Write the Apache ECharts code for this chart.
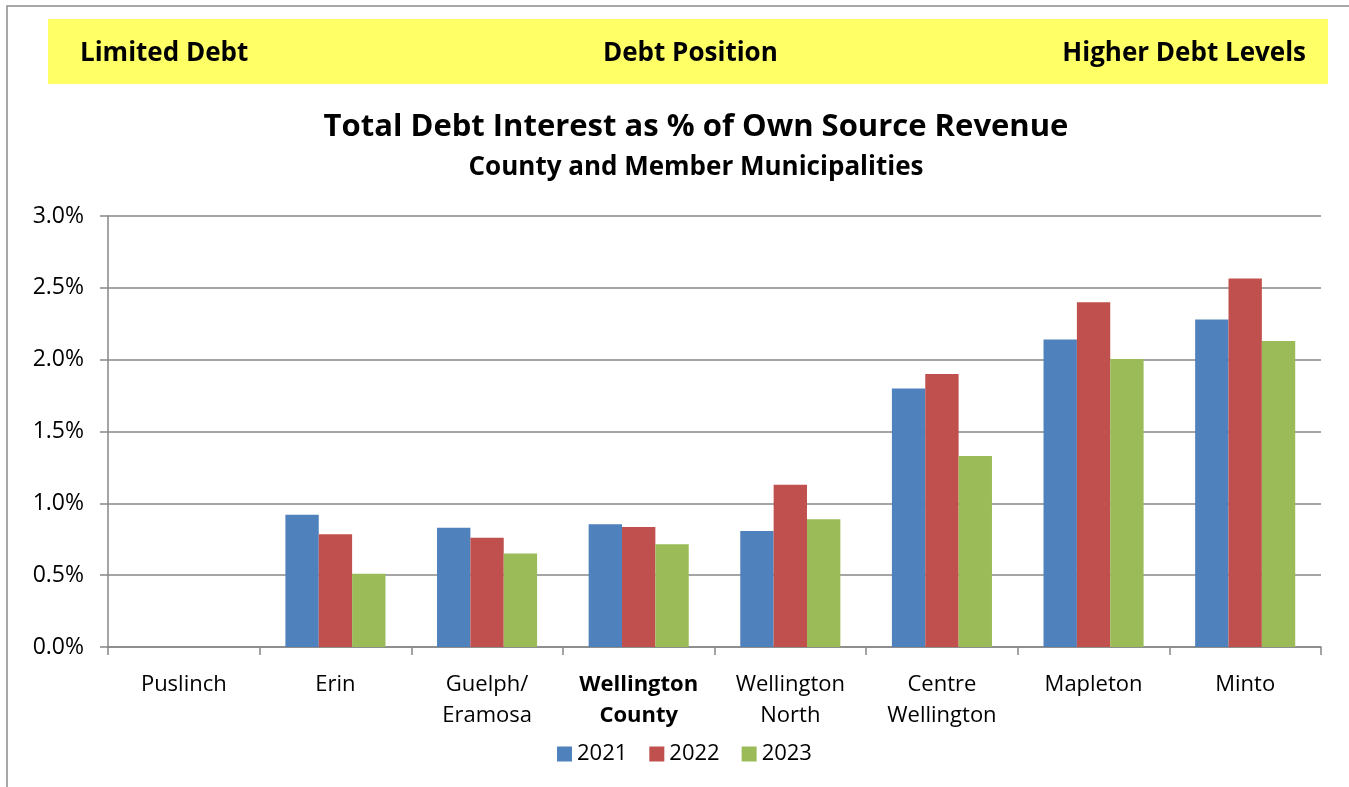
<!DOCTYPE html>
<html>
<head>
<meta charset="utf-8">
<script src="https://cdn.jsdelivr.net/npm/echarts@6/dist/echarts.min.js"></script>
<style>
html, body { margin: 0; padding: 0; background: #fff; }
#chart { width: 1349px; height: 787px; }
</style>
</head>
<body>
<div id="chart"></div>
<script>
const categories = ['Puslinch', 'Erin', 'Guelph/\nEramosa', 'Wellington\nCounty', 'Wellington\nNorth', 'Centre\nWellington', 'Mapleton', 'Minto']
const years = ['2021', '2022', '2023']
const values2021 = [0, 0.92, 0.83, 0.855, 0.807, 1.80, 2.14, 2.28]
const values2022 = [0, 0.785, 0.76, 0.835, 1.13, 1.90, 2.40, 2.565]
const values2023 = [0, 0.51, 0.65, 0.715, 0.89, 1.33, 2.005, 2.13]
const yTicks = [0, 0.5, 1.0, 1.5, 2.0, 2.5, 3.0]
const colors = ['#4F81BD', '#C0504D', '#9BBB59']
const font = '"Open Sans", Lato, sans-serif'

const chart = echarts.init(document.getElementById('chart'))
const gray = '#878787'

chart.setOption({
  animation: false,
  color: colors,
  textStyle: { fontFamily: font },
  graphic: [
    {
      type: 'rect',
      shape: { x: 7, y: 6, width: 1400, height: 900 },
      style: { fill: 'none', stroke: '#8c8c8c', lineWidth: 1.5 }
    },
    {
      type: 'rect',
      shape: { x: 48, y: 19, width: 1280, height: 65 },
      style: { fill: '#FFFF66' }
    },
    {
      type: 'text', left: 80, top: 41,
      style: { text: 'Limited Debt', font: 'bold 26px ' + font, fill: '#000' }
    },
    {
      type: 'text', left: 603, top: 41,
      style: { text: 'Debt Position', font: 'bold 26px ' + font, fill: '#000' }
    },
    {
      type: 'text', right: 43, top: 41,
      style: { text: 'Higher Debt Levels', font: 'bold 26px ' + font, fill: '#000' }
    },
    {
      type: 'text',
      style: {
        x: 696, y: 127, text: 'Total Debt Interest as % of Own Source Revenue',
        align: 'center', verticalAlign: 'middle',
        font: 'bold 31px ' + font, fill: '#000'
      }
    },
    {
      type: 'text',
      style: {
        x: 696, y: 168, text: 'County and Member Municipalities',
        align: 'center', verticalAlign: 'middle',
        font: 'bold 26px ' + font, fill: '#000'
      }
    }
  ],
  legend: {
    data: years,
    bottom: 17,
    left: 552,
    icon: 'rect',
    itemWidth: 15,
    itemHeight: 15,
    itemGap: 22,
    textStyle: { fontSize: 22, color: '#000', fontFamily: font }
  },
  grid: { left: 108, right: 28, top: 216, bottom: 140 },
  xAxis: {
    type: 'category',
    data: categories,
    axisLine: { show: true, lineStyle: { color: gray, width: 1.5 } },
    axisTick: { show: true, interval: 0, length: 8, lineStyle: { color: gray, width: 1.5 } },
    axisLabel: {
      interval: 0,
      margin: 22,
      fontSize: 22,
      lineHeight: 31,
      color: '#000',
      fontFamily: font,
      formatter: function(v) {
        if (v === 'Wellington\nCounty') return '{b|Wellington}\n{b|County}'
        return v
      },
      rich: { b: { fontWeight: 'bold', fontSize: 22, lineHeight: 31, color: '#000', fontFamily: font } }
    }
  },
  yAxis: {
    type: 'value',
    min: yTicks[0],
    max: yTicks[yTicks.length - 1],
    interval: 0.5,
    axisLine: { show: true, lineStyle: { color: gray, width: 1.5 } },
    axisTick: { show: true, length: 8, lineStyle: { color: gray, width: 1.5 } },
    splitLine: { lineStyle: { color: gray, width: 1.5 } },
    axisLabel: {
      fontSize: 23,
      color: '#000',
      margin: 24,
      fontFamily: font,
      formatter: function(v) { return v.toFixed(1) + '%' }
    }
  },
  series: [
    { name: years[0], type: 'bar', data: values2021, barGap: '0%', barCategoryGap: '34%' },
    { name: years[1], type: 'bar', data: values2022, barGap: '0%', barCategoryGap: '34%' },
    { name: years[2], type: 'bar', data: values2023, barGap: '0%', barCategoryGap: '34%' }
  ]
})
</script>
</body>
</html>
